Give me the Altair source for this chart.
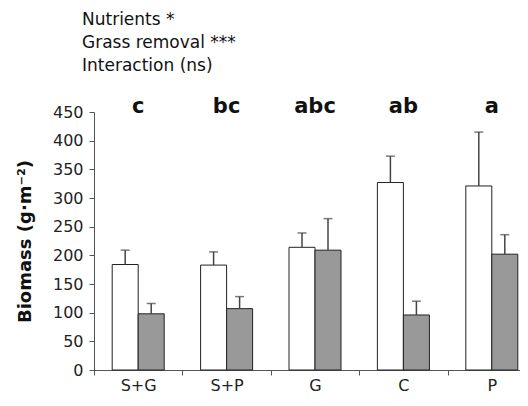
import altair as alt
import pandas as pd

categories = ["S+G", "S+P", "G", "C", "P"]
series = ["open", "filled"]
open_mean = [184, 183, 214, 327, 321]
open_upper = [209, 206, 239, 373, 415]
filled_mean = [98, 107, 209, 96, 202]
filled_upper = [116, 128, 264, 120, 236]
letters = ["c", "bc", "abc", "ab", "a"]
y_ticks = [0, 50, 100, 150, 200, 250, 300, 350, 400, 450]

rows = []
for i, c in enumerate(categories):
    rows.append(dict(cat=c, series="open", mean=open_mean[i], upper=open_upper[i]))
    rows.append(dict(cat=c, series="filled", mean=filled_mean[i], upper=filled_upper[i]))
df = pd.DataFrame(rows)
lab = pd.DataFrame(dict(cat=categories, letter=letters, y=[450] * len(categories)))

FONT = "DejaVu Sans"

x = alt.X(
    "cat:N",
    sort=categories,
    scale=alt.Scale(paddingInner=0, paddingOuter=0),
    axis=alt.Axis(
        title=None, tickBand="extent", labelAngle=0, labelFontSize=16,
        labelFont=FONT, labelColor="#222", domainColor="#555", tickColor="#555",
        tickSize=5, labelPadding=2, grid=False,
    ),
)
xo = alt.XOffset("series:N", sort=series, scale=alt.Scale(paddingOuter=0.7, paddingInner=0))
yscale = alt.Scale(domain=[0, 450], nice=False)
yaxis = alt.Axis(
    values=y_ticks, title="Biomass (g·m⁻²)", titleFont=FONT, titleFontSize=18,
    titleFontWeight="bold", titleColor="#111", titlePadding=18,
    labelFont=FONT, labelFontSize=16, labelColor="#222", labelPadding=6,
    labelOverlap=False, domainColor="#555", tickColor="#555", tickSize=5, grid=False,
)

bars = alt.Chart(df).mark_bar(stroke="#222", strokeWidth=1).encode(
    x=x, xOffset=xo,
    y=alt.Y("mean:Q", scale=yscale, axis=yaxis),
    fill=alt.Fill("series:N", sort=series,
                  scale=alt.Scale(domain=series, range=["#ffffff", "#999999"]), legend=None),
)
rules = alt.Chart(df).mark_rule(color="#444", strokeWidth=1.5).encode(
    x=x, xOffset=xo, y=alt.Y("mean:Q", scale=yscale, axis=yaxis), y2="upper:Q"
)
caps = alt.Chart(df).mark_tick(orient="horizontal", size=9, thickness=1.5, color="#444").encode(
    x=x, xOffset=xo, y=alt.Y("upper:Q", scale=yscale, axis=yaxis)
)
text = alt.Chart(lab).mark_text(
    font=FONT, fontSize=21, fontWeight="bold", color="#111", baseline="alphabetic", dy=1
).encode(x=x, y=alt.Y("y:Q", scale=yscale, axis=yaxis), text="letter:N")

chart = alt.layer(bars, rules, caps, text).properties(
    width=442, height=258,
    autosize=alt.AutoSizeParams(type="none"),
    padding={"left": 86, "top": 104, "right": -16, "bottom": 28},
    title=alt.TitleParams(
        text=["Nutrients *", "Grass removal ***", "Interaction (ns)"],
        font=FONT, fontSize=17, fontWeight="normal", color="#111",
        anchor="start", frame="group", dx=-12, lineHeight=23, offset=21,
    ),
).configure_view(stroke=None)

chart.save("out.html", embed_options={"renderer": "svg", "actions": False})
